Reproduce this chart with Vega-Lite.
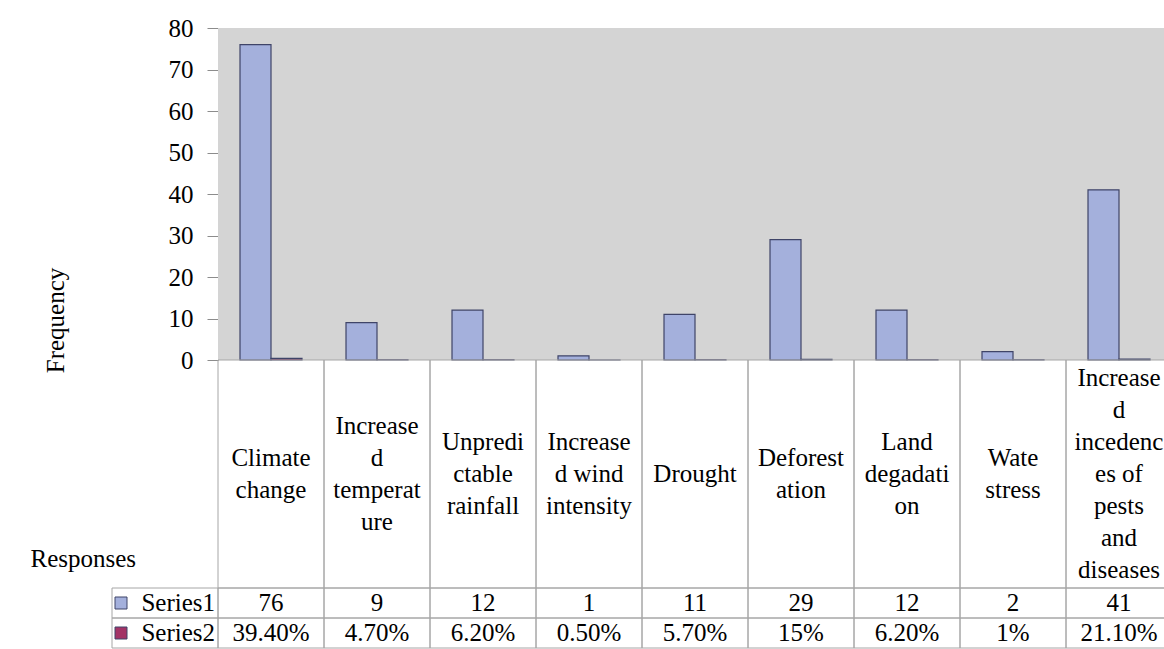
{
  "$schema": "https://vega.github.io/schema/vega-lite/v6.json",
  "background": "white",
  "padding": {"left": 30, "top": 16, "right": 0, "bottom": 0},
  "spacing": 0,
  "bounds": "flush",
  "config": {
    "view": {"stroke": null},
    "font": "\"Liberation Serif\", \"Times New Roman\", \"DejaVu Serif\", serif",
    "text": {"font": "\"Liberation Serif\", \"Times New Roman\", \"DejaVu Serif\", serif", "fontSize": 25, "color": "#000000"},
    "axis": {"labelFont": "\"Liberation Serif\", \"Times New Roman\", \"DejaVu Serif\", serif", "titleFont": "\"Liberation Serif\", \"Times New Roman\", \"DejaVu Serif\", serif", "labelFontSize": 25, "titleFontSize": 25, "labelColor": "#000000", "titleColor": "#000000", "titleFontWeight": "normal"}
  },
  "datasets": {
    "cats": [
      {"cat": "Climate change", "lines": ["Climate", "change"]},
      {"cat": "Increased temperature", "lines": ["Increase", "d", "temperat", "ure"]},
      {"cat": "Unpredictable rainfall", "lines": ["Unpredi", "ctable", "rainfall"]},
      {"cat": "Increased wind intensity", "lines": ["Increase", "d wind", "intensity"]},
      {"cat": "Drought", "lines": ["Drought"]},
      {"cat": "Deforestation", "lines": ["Deforest", "ation"]},
      {"cat": "Land degadation", "lines": ["Land", "degadati", "on"]},
      {"cat": "Wate stress", "lines": ["Wate", "stress"]},
      {"cat": "Increased incedences of pests and diseases", "lines": ["Increase", "d", "incedenc", "es of", "pests", "and", "diseases"]}
    ],
    "vals": [
      {"cat": "Climate change", "series": "Series1", "value": 76, "shown": "76"},
      {"cat": "Climate change", "series": "Series2", "value": 0.394, "shown": "39.40%"},
      {"cat": "Increased temperature", "series": "Series1", "value": 9, "shown": "9"},
      {"cat": "Increased temperature", "series": "Series2", "value": 0.047, "shown": "4.70%"},
      {"cat": "Unpredictable rainfall", "series": "Series1", "value": 12, "shown": "12"},
      {"cat": "Unpredictable rainfall", "series": "Series2", "value": 0.062, "shown": "6.20%"},
      {"cat": "Increased wind intensity", "series": "Series1", "value": 1, "shown": "1"},
      {"cat": "Increased wind intensity", "series": "Series2", "value": 0.005, "shown": "0.50%"},
      {"cat": "Drought", "series": "Series1", "value": 11, "shown": "11"},
      {"cat": "Drought", "series": "Series2", "value": 0.057, "shown": "5.70%"},
      {"cat": "Deforestation", "series": "Series1", "value": 29, "shown": "29"},
      {"cat": "Deforestation", "series": "Series2", "value": 0.15, "shown": "15%"},
      {"cat": "Land degadation", "series": "Series1", "value": 12, "shown": "12"},
      {"cat": "Land degadation", "series": "Series2", "value": 0.062, "shown": "6.20%"},
      {"cat": "Wate stress", "series": "Series1", "value": 2, "shown": "2"},
      {"cat": "Wate stress", "series": "Series2", "value": 0.01, "shown": "1%"},
      {"cat": "Increased incedences of pests and diseases", "series": "Series1", "value": 41, "shown": "41"},
      {"cat": "Increased incedences of pests and diseases", "series": "Series2", "value": 0.211, "shown": "21.10%"}
    ],
    "series": [
      {"series": "Series1"},
      {"series": "Series2"}
    ]
  },
  "resolve": {"scale": {"x": "independent", "y": "independent"}},
  "vconcat": [
    {
      "width": 1060,
      "height": 332,
      "layer": [
        {
          "data": {"name": "cats"},
          "mark": {"type": "bar", "fill": "#D4D4D4", "strokeWidth": 0},
          "encoding": {
            "x": {"field": "cat", "type": "nominal", "axis": null,
                  "scale": {"domain": ["_label", "Climate change", "Increased temperature", "Unpredictable rainfall", "Increased wind intensity", "Drought", "Deforestation", "Land degadation", "Wate stress", "Increased incedences of pests and diseases"], "paddingInner": 0, "paddingOuter": 0}},
            "y": {"datum": 80, "type": "quantitative",
                  "scale": {"domain": [0, 80], "nice": false},
                  "axis": {"values": [0, 10, 20, 30, 40, 50, 60, 70, 80], "offset": -106, "title": "Frequency", "titleX": -163, "titleY": 292, "titleAngle": 270, "titleBaseline": "middle", "titleAlign": "center", "tickSize": 11, "tickColor": "#8C8C8C", "domainColor": "#8C8C8C", "labelPadding": 14, "grid": false}}
          }
        },
        {
          "data": {"name": "vals"},
          "mark": {"type": "bar", "stroke": "#3F4468", "strokeWidth": 1.2},
          "encoding": {
            "x": {"field": "cat", "type": "nominal", "axis": null,
                  "scale": {"domain": ["_label", "Climate change", "Increased temperature", "Unpredictable rainfall", "Increased wind intensity", "Drought", "Deforestation", "Land degadation", "Wate stress", "Increased incedences of pests and diseases"], "paddingInner": 0, "paddingOuter": 0}},
            "xOffset": {"field": "series", "type": "nominal", "scale": {"domain": ["Series1", "Series2"], "paddingInner": 0, "paddingOuter": 0.71}},
            "y": {"field": "value", "type": "quantitative",
                  "axis": {"values": [0, 10, 20, 30, 40, 50, 60, 70, 80], "offset": -106, "title": "Frequency", "titleX": -163, "titleY": 292, "titleAngle": 270, "titleBaseline": "middle", "titleAlign": "center", "tickSize": 11, "tickColor": "#8C8C8C", "domainColor": "#8C8C8C", "labelPadding": 14, "grid": false}},
            "color": {"field": "series", "type": "nominal", "scale": {"domain": ["Series1", "Series2"], "range": ["#A4B0DC", "#A33366"]}, "legend": null}
          }
        }
      ]
    },
    {
      "width": 1060,
      "height": 228,
      "layer": [
        {
          "data": {"name": "cats"},
          "mark": {"type": "rect", "fill": "transparent", "stroke": "#A6A6A6", "strokeWidth": 1},
          "encoding": {
            "x": {"field": "cat", "type": "nominal",
                  "scale": {"domain": ["_label", "Climate change", "Increased temperature", "Unpredictable rainfall", "Increased wind intensity", "Drought", "Deforestation", "Land degadation", "Wate stress", "Increased incedences of pests and diseases"], "paddingInner": 0, "paddingOuter": 0},
                  "axis": {"orient": "top", "labels": false, "ticks": false, "domain": false, "grid": false, "title": "Responses", "titleX": -82, "titleY": 198, "titleAngle": 0, "titleAlign": "left", "titleBaseline": "middle"}}
          }
        },
        {
          "data": {"name": "cats"},
          "transform": [
            {"flatten": ["lines"], "as": ["line"]},
            {"window": [{"op": "row_number", "as": "i"}], "groupby": ["cat"]},
            {"joinaggregate": [{"op": "count", "as": "n"}], "groupby": ["cat"]}
          ],
          "mark": {"type": "text", "baseline": "middle", "align": "center"},
          "encoding": {
            "x": {"field": "cat", "type": "nominal"},
            "y": {"field": "n", "type": "ordinal", "axis": null, "scale": {"type": "point", "domain": [7, 6, 5, 4, 3, 2, 1], "range": [2, 98], "padding": 0}},
            "yOffset": {"field": "i", "type": "ordinal", "scale": {"type": "band", "domain": [1, 2, 3, 4, 5, 6, 7], "range": [0, 224], "paddingInner": 0, "paddingOuter": 0}},
            "text": {"field": "line"}
          }
        }
      ]
    },
    {
      "width": 1060,
      "height": 60,
      "layer": [
        {
          "data": {"name": "vals"},
          "mark": {"type": "rect", "fill": "transparent", "stroke": "#A6A6A6", "strokeWidth": 1},
          "encoding": {
            "x": {"field": "cat", "type": "nominal", "axis": null,
                  "scale": {"domain": ["_label", "Climate change", "Increased temperature", "Unpredictable rainfall", "Increased wind intensity", "Drought", "Deforestation", "Land degadation", "Wate stress", "Increased incedences of pests and diseases"], "paddingInner": 0, "paddingOuter": 0}},
            "y": {"field": "series", "type": "nominal", "axis": null, "scale": {"domain": ["Series1", "Series2"], "paddingInner": 0, "paddingOuter": 0}}
          }
        },
        {
          "data": {"name": "series"},
          "mark": {"type": "rect", "fill": "transparent", "stroke": "#A6A6A6", "strokeWidth": 1},
          "encoding": {
            "x": {"datum": "_label", "type": "nominal"},
            "y": {"field": "series", "type": "nominal", "axis": null}
          }
        },
        {
          "data": {"name": "vals"},
          "mark": {"type": "text", "baseline": "middle", "align": "center"},
          "encoding": {
            "x": {"field": "cat", "type": "nominal"},
            "y": {"field": "series", "type": "nominal"},
            "text": {"field": "shown"}
          }
        },
        {
          "data": {"name": "series"},
          "mark": {"type": "point", "shape": "square", "size": 144, "filled": true, "stroke": "#3F4468", "strokeWidth": 1, "opacity": 1},
          "encoding": {
            "x": {"datum": "_label", "type": "nominal", "bandPosition": 0.085},
            "y": {"field": "series", "type": "nominal"},
            "color": {"field": "series", "type": "nominal", "scale": {"domain": ["Series1", "Series2"], "range": ["#A4B0DC", "#A33366"]}, "legend": null}
          }
        },
        {
          "data": {"name": "series"},
          "mark": {"type": "text", "baseline": "middle", "align": "right", "dx": 50},
          "encoding": {
            "x": {"datum": "_label", "type": "nominal"},
            "y": {"field": "series", "type": "nominal"},
            "text": {"field": "series"}
          }
        }
      ]
    }
  ]
}
